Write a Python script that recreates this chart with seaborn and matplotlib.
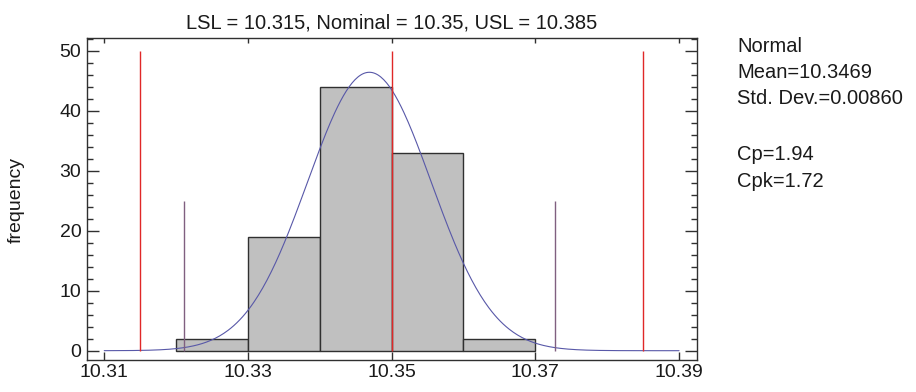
import numpy as np
import pandas as pd
import matplotlib
matplotlib.use("Agg")
import matplotlib.pyplot as plt
import seaborn as sns
from matplotlib.ticker import MultipleLocator

# ---- data ----
bin_edges = [10.32, 10.33, 10.34, 10.35, 10.36, 10.37]
counts = [2, 19, 44, 33, 2]
mean = 10.3469
std = 0.00860
lsl, nominal, usl = 10.315, 10.35, 10.385
cp, cpk = 1.94, 1.72
x_ticks = [10.31, 10.33, 10.35, 10.37, 10.39]
y_ticks = [0, 10, 20, 30, 40, 50]

sns.set_theme(style="white")
plt.rcParams['font.family'] = ['Liberation Sans', 'DejaVu Sans']
txt_color = '#1a1a1a'

fig = plt.figure(figsize=(9.16, 3.92), dpi=100)
ax = fig.add_axes([87/916, 1-360/392, (697-87)/916, (360-38)/392])

centers = [(a + b) / 2 for a, b in zip(bin_edges[:-1], bin_edges[1:])]
df = pd.DataFrame({"x": centers, "w": counts})
sns.histplot(data=df, x="x", weights="w", bins=bin_edges, ax=ax,
             color='#c0c0c0', edgecolor='#303030', linewidth=1.0, alpha=1.0)

# fitted normal curve
n = sum(counts)
bw = bin_edges[1] - bin_edges[0]
xs = np.linspace(10.31, 10.39, 400)
ys = n * bw * np.exp(-0.5 * ((xs - mean) / std) ** 2) / (std * np.sqrt(2 * np.pi))
sns.lineplot(x=xs, y=ys, ax=ax, color='#5858a8', linewidth=0.8)

# spec lines
for v in (lsl, nominal, usl):
    ax.vlines(v, 0, 50, color='#e02828', linewidth=1.0, zorder=3)
for v in (mean - 3 * std, mean + 3 * std):
    ax.vlines(v, 0, 25, color='#806080', linewidth=1.0, zorder=3)

ax.set_xlim(10.3076, 10.3925)
ax.set_ylim(-1.55, 52.1)
ax.set_xticks(x_ticks)
ax.set_xticklabels([f"{t:.2f}" for t in x_ticks])
ax.set_yticks(y_ticks)
ax.yaxis.set_minor_locator(MultipleLocator(2))

ax.tick_params(axis='y', which='major', direction='in', length=8.5, width=1,
               left=True, right=True, color='#303030', labelsize=14,
               labelcolor=txt_color, pad=4)
ax.tick_params(axis='y', which='minor', direction='in', length=4.3, width=1,
               left=True, right=True, color='#303030')
ax.tick_params(axis='x', which='major', direction='in', length=6, width=1,
               bottom=True, top=False, color='#303030', labelsize=14,
               labelcolor=txt_color, pad=3)
sec = ax.secondary_xaxis('top')
sec.set_xticks(x_ticks)
sec.tick_params(axis='x', direction='in', length=3.5, width=1, color='#303030',
                labeltop=False)
for s in sec.spines.values():
    s.set_visible(False)

for s in ax.spines.values():
    s.set_color('#303030')
    s.set_linewidth(1.0)

ax.set_xlabel("")
ax.set_ylabel("")
fig.text(16/916, 1 - 200/392, "frequency", rotation=90, fontsize=14,
         color=txt_color, ha='center', va='center')
ax.set_title(f"LSL = {lsl}, Nominal = {nominal}, USL = {usl}",
             fontsize=14.5, color=txt_color, pad=7)

# side statistics
side_x = 737 / 916
lines = [("Normal", 47), (f"Mean={mean}", 73), (f"Std. Dev.={std:.5f}", 99),
         (f"Cp={cp}", 155), (f"Cpk={cpk}", 181)]
for t, ypx in lines:
    fig.text(side_x, 1 - ypx / 392, t, fontsize=14.5, color=txt_color,
             ha='left', va='center')

fig.savefig("out.png", dpi=100)
